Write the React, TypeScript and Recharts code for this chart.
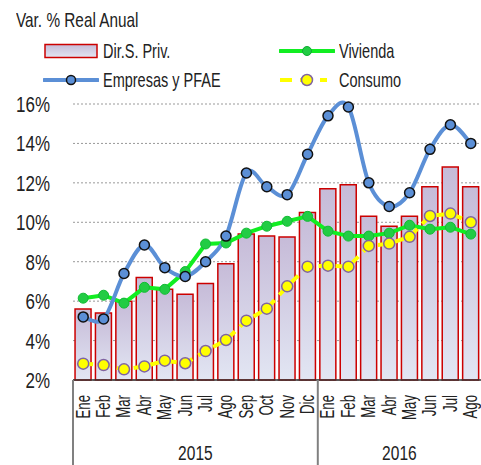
import React from "react";
import {
  ComposedChart,
  Bar,
  Line,
  XAxis,
  YAxis,
  CartesianGrid,
} from "recharts";

const months = ["Ene", "Feb", "Mar", "Abr", "May", "Jun", "Jul", "Ago", "Sep", "Oct", "Nov", "Dic", "Ene", "Feb", "Mar", "Abr", "May", "Jun", "Jul", "Ago"];
const yearGroups = [
  { label: "2015", start: 0, count: 12 },
  { label: "2016", start: 12, count: 8 },
];
const dirPriv = [5.6, 5.4, 6.0, 7.2, 6.6, 6.35, 6.9, 7.9, 9.4, 9.3, 9.25, 10.5, 11.7, 11.9, 10.3, 9.8, 10.3, 11.8, 12.8, 11.8];
const empresas = [5.2, 5.1, 7.4, 8.85, 7.7, 7.25, 8.0, 9.3, 12.5, 11.8, 11.4, 13.45, 15.4, 15.85, 12.0, 10.8, 11.5, 13.7, 14.95, 14.0];
const vivienda = [6.15, 6.3, 5.9, 6.7, 6.6, 7.5, 8.9, 8.95, 9.45, 9.8, 10.05, 10.3, 9.55, 9.3, 9.3, 9.45, 9.85, 9.65, 9.75, 9.4];
const consumo = [2.83, 2.76, 2.54, 2.69, 2.98, 2.85, 3.47, 4.03, 5.01, 5.62, 6.75, 7.75, 7.8, 7.75, 8.8, 8.92, 9.26, 10.32, 10.44, 10.0];
const yTicks = [2, 4, 6, 8, 10, 12, 14, 16];

const data = months.map((m, i) => ({
  id: `${m}-${i}`,
  dirPriv: dirPriv[i],
  empresas: empresas[i],
  vivienda: vivienda[i],
  consumo: consumo[i],
}));

const FONT = "'Liberation Sans', Arial, sans-serif";
const W = 481;
const H = 465;
const Y_AXIS_W = 73;
const TOP = 104;
const X_AXIS_H = 85;
const BAND = (W - Y_AXIS_W) / months.length;
const AXIS_Y = H - X_AXIS_H;

// Excel-like smoothed line (Catmull-Rom)
const smoothCurve = (context: any) => {
  let pts: number[][] = [];
  return {
    areaStart() {},
    areaEnd() {},
    lineStart() {
      pts = [];
    },
    point(x: number, y: number) {
      pts.push([+x, +y]);
    },
    lineEnd() {
      if (!pts.length) return;
      context.moveTo(pts[0][0], pts[0][1]);
      for (let i = 0; i < pts.length - 1; i++) {
        const p0 = pts[i - 1] || pts[i];
        const p1 = pts[i];
        const p2 = pts[i + 1];
        const p3 = pts[i + 2] || p2;
        context.bezierCurveTo(
          p1[0] + (p2[0] - p0[0]) / 6,
          p1[1] + (p2[1] - p0[1]) / 6,
          p2[0] - (p3[0] - p1[0]) / 6,
          p2[1] - (p3[1] - p1[1]) / 6,
          p2[0],
          p2[1]
        );
      }
    },
  };
};

function PctTick(props: any) {
  const { x, y, payload } = props;
  return (
    <text
      transform={`translate(${x},${y}) scale(0.77,1)`}
      textAnchor="end"
      dy="0.36em"
      fontSize={22}
      fontFamily={FONT}
      fill="#222"
    >
      {`${payload.value}%`}
    </text>
  );
}

function MonthTick(props: any) {
  const { x, index } = props;
  const group = yearGroups.find((g) => g.start === index);
  return (
    <g>
      <text
        transform={`translate(${x},${AXIS_Y + 15}) rotate(-90) scale(0.63,1)`}
        textAnchor="end"
        dy="0.3em"
        fontSize={21}
        fontFamily={FONT}
        fill="#222"
      >
        {months[index]}
      </text>
      {group && (
        <>
          <line
            x1={x - BAND / 2}
            x2={x - BAND / 2}
            y1={AXIS_Y}
            y2={H}
            stroke="#808080"
            strokeWidth={2}
          />
          <text
            transform={`translate(${x + (group.count / 2 - 0.5) * BAND},${H - 5}) scale(0.74,1)`}
            textAnchor="middle"
            fontSize={21}
            fontFamily={FONT}
            fill="#222"
          >
            {group.label}
          </text>
        </>
      )}
    </g>
  );
}

function Narrow({ children, size = 21, scale = 0.69 }: any) {
  return (
    <span
      style={{
        display: "inline-block",
        fontSize: size,
        color: "#222",
        whiteSpace: "nowrap",
        transform: `scaleX(${scale})`,
        transformOrigin: "left center",
      }}
    >
      {children}
    </span>
  );
}

function LegendItem({ x, y, label, swatch }: any) {
  return (
    <div style={{ position: "absolute", left: x, top: y - 14, height: 28, display: "flex", alignItems: "center" }}>
      <svg width={56} height={28} style={{ marginRight: 4 }}>
        {swatch}
      </svg>
      <Narrow>{label}</Narrow>
    </div>
  );
}

export default function App() {
  return (
    <div style={{ position: "relative", width: W, height: H, fontFamily: FONT, background: "#fff" }}>
      <style>{"body{margin:0}"}</style>
      <div style={{ position: "absolute", left: 16, top: 8 }}>
        <Narrow scale={0.73}>Var. % Real Anual</Narrow>
      </div>
      <LegendItem
        x={43}
        y={51}
        label="Dir.S. Priv."
        swatch={
          <>
            <defs>
              <linearGradient id="legGrad" x1="0" y1="0" x2="0" y2="1">
                <stop offset="0%" stopColor="#c6bbd8" />
                <stop offset="100%" stopColor="#e2e5f2" />
              </linearGradient>
            </defs>
            <rect x={2} y={7.5} width={52} height={13} fill="url(#legGrad)" stroke="#cc0000" strokeWidth={1.5} />
          </>
        }
      />
      <LegendItem
        x={43}
        y={80}
        label="Empresas y PFAE"
        swatch={
          <>
            <line x1={1} x2={55} y1={14} y2={14} stroke="#5b8fd6" strokeWidth={4} strokeLinecap="round" />
            <circle cx={28} cy={14} r={4.5} fill="#5b8fd6" stroke="#111" strokeWidth={1.5} />
          </>
        }
      />
      <LegendItem
        x={279}
        y={51}
        label="Vivienda"
        swatch={
          <>
            <line x1={1} x2={55} y1={14} y2={14} stroke="#11ee22" strokeWidth={4} strokeLinecap="round" />
            <circle cx={28} cy={14} r={4.5} fill="#22cc44" stroke="#11aa33" strokeWidth={1} />
          </>
        }
      />
      <LegendItem
        x={279}
        y={80}
        label="Consumo"
        swatch={
          <>
            <line x1={1} x2={48} y1={14} y2={14} stroke="#ffff00" strokeWidth={4} strokeDasharray="12 8" />
            <circle cx={28} cy={14} r={5.5} fill="#ffff00" stroke="#8064a2" strokeWidth={1.5} />
          </>
        }
      />
      <ComposedChart
        width={W}
        height={H}
        data={data}
        margin={{ top: TOP, right: 0, bottom: 0, left: 0 }}
        barCategoryGap="10%"
        style={{ position: "absolute", left: 0, top: 0 }}
      >
        <defs>
          <linearGradient id="barGrad" x1="0" y1="0" x2="0" y2="1">
            <stop offset="0%" stopColor="#c6bbd8" />
            <stop offset="100%" stopColor="#e2e6f3" />
          </linearGradient>
        </defs>
        <CartesianGrid vertical={false} stroke="#999" strokeDasharray="2 2" />
        <XAxis
          dataKey="id"
          interval={0}
          height={X_AXIS_H}
          tickLine={false}
          axisLine={{ stroke: "#333", strokeWidth: 1.5 }}
          tick={<MonthTick />}
        />
        <YAxis
          domain={[2, 16]}
          ticks={yTicks}
          width={Y_AXIS_W}
          axisLine={false}
          tickLine={false}
          tickSize={0}
          tickMargin={23}
          tick={<PctTick />}
        />
        <Bar dataKey="dirPriv" fill="url(#barGrad)" stroke="#cc0000" strokeWidth={1.5} isAnimationActive={false} />
        <Line
          dataKey="vivienda"
          type="linear"
          stroke="#11ee22"
          strokeWidth={4}
          dot={{ r: 5, fill: "#22cc44", stroke: "#11bb33", strokeWidth: 1 }}
          activeDot={false}
          isAnimationActive={false}
        />
        <Line
          dataKey="empresas"
          type={smoothCurve as any}
          stroke="#5b8fd6"
          strokeWidth={4}
          dot={{ r: 5, fill: "#5b8fd6", stroke: "#111", strokeWidth: 1.5 }}
          activeDot={false}
          isAnimationActive={false}
        />
        <Line
          dataKey="consumo"
          type="linear"
          stroke="#ffff00"
          strokeWidth={4}
          strokeDasharray="10 7"
          dot={{ r: 5.5, fill: "#ffff00", stroke: "#8064a2", strokeWidth: 1.5, strokeDasharray: "" }}
          activeDot={false}
          isAnimationActive={false}
        />
      </ComposedChart>
    </div>
  );
}
